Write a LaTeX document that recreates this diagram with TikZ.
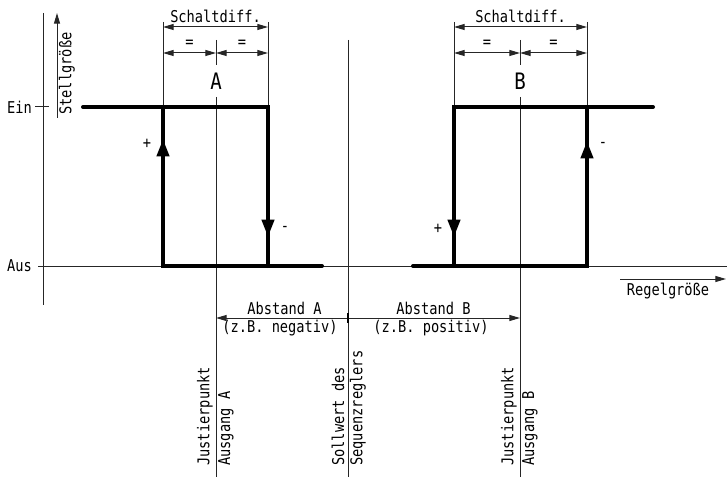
\documentclass[tikz,border=0pt]{standalone}
\usepackage{fontspec}
\setmainfont{DejaVu Sans Mono}[FakeStretch=0.84]
\usetikzlibrary{arrows.meta}

\tikzset{
  thinline/.style={line width=0.75pt, black!85},
  thickline/.style={line width=3pt, line cap=round, line join=miter},
  dimtip/.tip={Triangle[length=8pt,width=4.5pt]},
  bigtip/.tip={Triangle[length=13pt,width=9pt]},
  dimline/.style={thinline, dimtip-dimtip},
  lbl/.style={inner sep=0.75pt, font=\fontsize{12.2}{14}\selectfont},
  biglbl/.style={inner sep=0.75pt, font=\fontsize{17}{20}\selectfont}
}

\begin{document}
\begin{tikzpicture}[x=0.75pt,y=0.75pt,yscale=-1,xscale=1]
\useasboundingbox (0,0) rectangle (727,477);

%Axes
\draw [thinline] (43,13) -- (43,305) ;
\draw [thinline] (38,266) -- (727,266) ;
\draw [thinline] (35,107) -- (49,107) ;
\draw [thinline, -dimtip] (57,118) -- (57,13) ;
\draw [thinline, -dimtip] (620,279) -- (726,279) ;

%Reference lines
\draw [thinline] (216,40) -- (216,65) (216,97) -- (216,477) ;
\draw [thinline] (520,40) -- (520,65) (520,97) -- (520,477) ;
\draw [thinline] (348,40) -- (348,477) ;

%Extension lines
\draw [thinline] (163,22) -- (163,107) (268,22) -- (268,107) ;
\draw [thinline] (454,22) -- (454,107) (587,22) -- (587,107) ;

%Dimension lines A
\draw [dimline] (163,27) -- (268,27) ;
\draw [dimline] (163,53) -- (216,53) ;
\draw [dimline] (216,53) -- (268,53) ;
%Dimension lines B
\draw [dimline] (454,27) -- (587,27) ;
\draw [dimline] (454,53) -- (520,53) ;
\draw [dimline] (520,53) -- (587,53) ;

%Abstand
\draw [thinline, -dimtip] (348,318) -- (216,318) ;
\draw [thinline, -dimtip] (348,318) -- (520,318) ;
\draw [line width=2pt] (348,313) -- (348,323) ;

%Hysteresis A
\draw [thickline] (83,107) -- (268,107) -- (268,266) ;
\draw [thickline] (163,107) -- (163,266) -- (322,266) ;
\draw [thickline, -bigtip] (163,175) -- (163,139) ;
\draw [thickline, -bigtip] (268,200) -- (268,237) ;
%Hysteresis B
\draw [thickline] (413,266) -- (587,266) -- (587,107) ;
\draw [thickline] (454,266) -- (454,107) -- (653,107) ;
\draw [thickline, -bigtip] (454,200) -- (454,237) ;
\draw [thickline, -bigtip] (587,175) -- (587,141) ;

% Text Node
\draw (33,107) node (ein) [anchor=east][lbl] {Ein};
\draw (33,266) node (aus) [anchor=east][lbl] {Aus};
\draw (67,116) node (stell) [anchor=west, rotate=90][lbl] {Stellgröße};
\draw (668,291) node (regel) [lbl] {Regelgröße};
% Text Node
\draw (215.5,16) node (schaltA) [lbl] {Schaltdiff.};
\draw (189.5,44) node (eqA1) [lbl] {=};
\draw (242,44) node (eqA2) [lbl] {=};
\draw (216,81) node (nameA) [biglbl] {A};
\draw (147,144) node (plusA) [lbl] {+};
\draw (285,229) node (minusA) [lbl] {-};
% Text Node
\draw (520.5,16) node (schaltB) [lbl] {Schaltdiff.};
\draw (487,44) node (eqB1) [lbl] {=};
\draw (553.5,44) node (eqB2) [lbl] {=};
\draw (520,81) node (nameB) [biglbl] {B};
\draw (438,229) node (plusB) [lbl] {+};
\draw (603,145) node (minusB) [lbl] {-};
% Text Node
\draw (284.5,308) node (abstA) [lbl] {Abstand A};
\draw (280,328) node (negA) [lbl] {(z.B. negativ)};
\draw (433.5,308) node (abstB) [lbl] {Abstand B};
\draw (431,328) node (posB) [lbl] {(z.B. positiv)};
% Text Node
\draw (205,467) node (justA) [anchor=west, rotate=90][lbl] {Justierpunkt};
\draw (226,467) node (ausgA) [anchor=west, rotate=90][lbl] {Ausgang A};
\draw (338,467) node (soll) [anchor=west, rotate=90][lbl] {Sollwert des};
\draw (358,467) node (sequ) [anchor=west, rotate=90][lbl] {Sequenzreglers};
\draw (509,467) node (justB) [anchor=west, rotate=90][lbl] {Justierpunkt};
\draw (530,467) node (ausgB) [anchor=west, rotate=90][lbl] {Ausgang B};

\end{tikzpicture}
\end{document}
